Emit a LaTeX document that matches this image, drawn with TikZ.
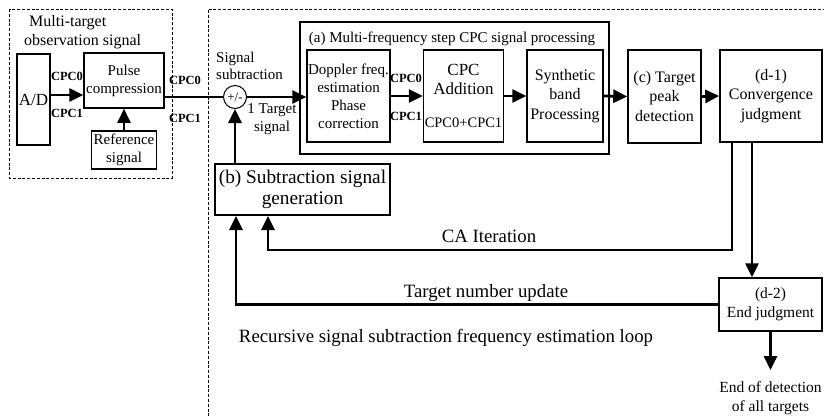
\documentclass[tikz,border=0pt]{standalone}
\usepackage{fontspec}
\setmainfont{Liberation Serif}
\usetikzlibrary{arrows.meta}
\tikzset{
  blk/.style={draw, line width=1.5pt, align=center, inner sep=1pt, font=\fontsize{15}{18}\selectfont},
  tag/.style={inner sep=0pt, font=\bfseries\fontsize{12.5}{14}\selectfont},
  txt/.style={inner sep=0pt, align=center, font=\fontsize{15}{17.5}\selectfont},
  big/.style={inner sep=0pt, font=\fontsize{18.8}{21}\selectfont},
  arr/.style={line width=2.8pt, -{Triangle[length=14pt,width=13pt]}},
  wire/.style={line width=2.8pt},
}
\begin{document}
\begin{tikzpicture}[x=1pt,y=-1pt]
\useasboundingbox (0,0) rectangle (824,416);

\draw [dash pattern=on 3pt off 1.8pt, line width=0.9pt] (9,9) rectangle (172,178);
\draw [dash pattern=on 3pt off 1.8pt, line width=0.9pt] (826,9) -- (208,9) -- (208,418);
\node [txt, align=left, anchor=west, font=\fontsize{16}{19}\selectfont] (obs) at (24,32.5) {\hspace*{5pt}Multi-target\\observation signal};

\node [blk, minimum width=33pt, minimum height=91pt, font=\fontsize{17}{20}\selectfont] (ad) at (33.5,99.5) {A/D};
\node [blk, minimum width=80pt, minimum height=55pt] (pulse) at (124,80.5) {Pulse\\compression};
\node [blk, line width=1.2pt, minimum width=65pt, minimum height=38pt] (ref) at (124,150) {Reference\\signal};
\node [tag] (c0a) at (67,76) {CPC0};
\node [tag] (c1a) at (67,113) {CPC1};
\node [tag] (c0b) at (185,80) {CPC0};
\node [tag] (c1b) at (185,118) {CPC1};

\node [draw, circle, line width=1pt, minimum size=23pt, inner sep=0pt, font=\fontsize{13}{14}\selectfont] (sub) at (235,97) {+/-};
\node [txt, align=left, anchor=west] (sublbl) at (216,66) {Signal\\subtraction};
\node [txt] (onetgt) at (272,119) {1 Target\\signal};

\node [draw, line width=2pt, minimum width=309pt, minimum height=132pt] (proc) at (454.5,88) {};
\node [txt] (proclbl) at (452,39) {(a) Multi-frequency step CPC signal processing};
\node [blk, minimum width=81pt, minimum height=92pt] (dop) at (348.5,96) {Doppler freq.\\estimation\\Phase\\correction};
\node [blk, minimum width=80pt, minimum height=92pt, font=\fontsize{17}{19}\selectfont] (cpcadd) at (463.5,96) {CPC\\Addition\\[14pt]\fontsize{14.5}{16}\selectfont CPC0+CPC1};
\node [blk, minimum width=76pt, minimum height=92pt, font=\fontsize{16}{19.5}\selectfont] (synth) at (565,96) {Synthetic\\band\\Processing};
\node [tag] (c0c) at (406,78) {CPC0};
\node [tag] (c1c) at (406,116) {CPC1};

\node [blk, minimum width=73pt, minimum height=93pt, font=\fontsize{16}{19.5}\selectfont] (peak) at (664.5,96.5) {(c) Target\\peak\\detection};
\node [blk, minimum width=102pt, minimum height=92pt, font=\fontsize{16}{19.5}\selectfont] (conv) at (771,96) {(d-1)\\Convergence\\judgment};
\node [blk, line width=2pt, minimum width=175pt, minimum height=51pt, font=\fontsize{19.3}{21}\selectfont] (subgen) at (302.5,189.5) {(b) Subtraction signal\\generation};
\node [blk, minimum width=103pt, minimum height=53pt, font=\fontsize{15.5}{18.5}\selectfont] (endj) at (770.5,304.5) {(d-2)\\End judgment};
\node [txt, anchor=north, font=\fontsize{15.5}{19}\selectfont] (endtxt) at (770.5,381) {End of detection\\of all targets};

\node [big] (calbl) at (489,236) {CA Iteration};
\node [big] (updlbl) at (486,293) {Target number update};
\node [big] (looplbl) at (446,338) {Recursive signal subtraction frequency estimation loop};

\coordinate (caturn) at (732,250);
\coordinate (caup) at (268,250);
\coordinate (down) at (752,0);
\coordinate (updup) at (236,304.5);

\draw [arr] ([yshift=4.5pt]ad.east) -- ([yshift=4.5pt]ad.east -| pulse.west);
\draw [arr, line width=2pt] (ref.north) -- (ref.north |- pulse.south);
\draw [wire] (pulse.east |- sub) -- (sub.west);
\draw [arr] (sub.east) -- (sub -| dop.west);
\draw [arr] (dop.east) -- (cpcadd.west);
\draw [arr] (cpcadd.east) -- (synth.west);
\draw [arr] (synth.east) -- (peak.west);
\draw [arr] (peak.east) -- (conv.west);
\draw [arr] (subgen.north -| sub) -- (sub.south);
\draw [arr] (caturn |- conv.south) -- (caturn) -- (caup) -- (caup |- subgen.south);
\draw [arr] (down |- conv.south) -- (down |- endj.north);
\draw [arr] (endj.west) -- (updup) -- (updup |- subgen.south);
\draw [arr] (endj.south) -- ([yshift=11pt]endtxt.north);
\end{tikzpicture}
\end{document}
